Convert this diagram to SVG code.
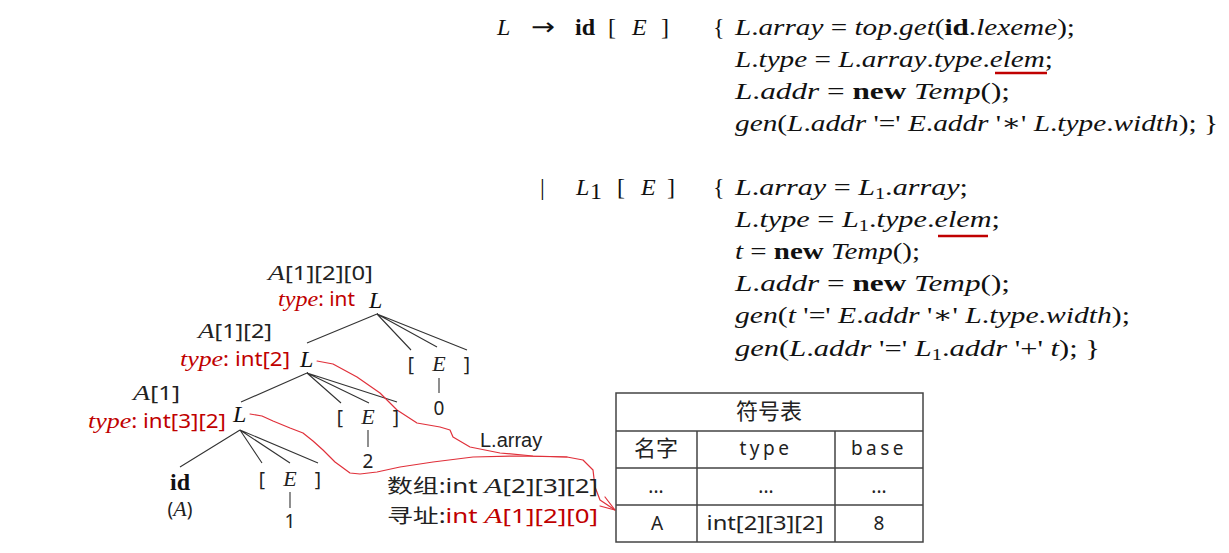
<svg xmlns="http://www.w3.org/2000/svg" width="1229" height="553" viewBox="0 0 1229 553">
<style>
.f{font-family:"Liberation Serif","DejaVu Serif",serif;font-size:24px;fill:#111}
.i{font-style:italic}
.b{font-weight:bold}
.s{font-family:"Noto Sans","Liberation Sans","Noto Sans CJK SC",sans-serif;font-size:19px;fill:#222}
.m{font-family:"Liberation Serif","DejaVu Serif",serif;font-style:italic;font-size:22px;fill:#222}
.red{fill:#c00000}
.edge{stroke:#333;stroke-width:1.1;fill:none}
.curve{stroke:#e0303a;stroke-width:1.2;fill:none;stroke-linejoin:round;stroke-linecap:round}
.ul{stroke:#c00000;stroke-width:2.5}
.tb{stroke:#444;stroke-width:1.5;fill:none}
.t{font-family:"Noto Sans","Noto Sans CJK SC",sans-serif;font-size:19px;fill:#222;text-anchor:middle}
.cn{font-family:"Noto Sans CJK SC",sans-serif;font-size:22px;fill:#222;text-anchor:middle}
</style>
<rect width="1229" height="553" fill="#fff"/>

<g id="rule1">
<text class="f i" x="497" y="35">L</text>
<text x="531" y="35" font-family="DejaVu Sans, sans-serif" font-size="24" fill="#111" textLength="24" lengthAdjust="spacingAndGlyphs">→</text>
<text class="f b" x="575" y="35">id</text>
<text class="f" x="608" y="35">[</text>
<text class="f i" x="632" y="35">E</text>
<text class="f" x="661" y="35">]</text>
<text class="f" x="713" y="35">{</text>
<text class="f" x="735" y="35" textLength="340" lengthAdjust="spacingAndGlyphs"><tspan class="i">L</tspan>.<tspan class="i">array</tspan> = <tspan class="i">top</tspan>.<tspan class="i">get</tspan>(<tspan class="b">id</tspan>.<tspan class="i">lexeme</tspan>);</text>
<text class="f" x="735" y="67" textLength="318" lengthAdjust="spacingAndGlyphs"><tspan class="i">L</tspan>.<tspan class="i">type</tspan> = <tspan class="i">L</tspan>.<tspan class="i">array</tspan>.<tspan class="i">type</tspan>.<tspan class="i">elem</tspan>;</text>
<line class="ul" x1="995" y1="73" x2="1047" y2="73"/>
<text class="f" x="735" y="99" textLength="275" lengthAdjust="spacingAndGlyphs"><tspan class="i">L</tspan>.<tspan class="i">addr</tspan> = <tspan class="b">new</tspan> <tspan class="i">Temp</tspan>();</text>
<text class="f" x="735" y="131" textLength="483" lengthAdjust="spacingAndGlyphs"><tspan class="i">gen</tspan>(<tspan class="i">L</tspan>.<tspan class="i">addr</tspan> '=' <tspan class="i">E</tspan>.<tspan class="i">addr</tspan> '∗' <tspan class="i">L</tspan>.<tspan class="i">type</tspan>.<tspan class="i">width</tspan>); }</text>
</g>

<g id="rule2">
<text class="f" x="540" y="195">|</text>
<text class="f i" x="576" y="195">L</text>
<text class="f" x="590" y="199" font-size="16">1</text>
<text class="f" x="617" y="195">[</text>
<text class="f i" x="641" y="195">E</text>
<text class="f" x="667" y="195">]</text>
<text class="f" x="713" y="195">{</text>
<text class="f" x="735" y="195" textLength="233" lengthAdjust="spacingAndGlyphs"><tspan class="i">L</tspan>.<tspan class="i">array</tspan> = <tspan class="i">L</tspan><tspan font-size="16" dy="4">1</tspan><tspan dy="-4">.</tspan><tspan class="i">array</tspan>;</text>
<text class="f" x="735" y="227" textLength="265" lengthAdjust="spacingAndGlyphs"><tspan class="i">L</tspan>.<tspan class="i">type</tspan> = <tspan class="i">L</tspan><tspan font-size="16" dy="4">1</tspan><tspan dy="-4">.</tspan><tspan class="i">type</tspan>.<tspan class="i">elem</tspan>;</text>
<line class="ul" x1="938" y1="236" x2="988" y2="236"/>
<text class="f" x="735" y="259" textLength="185" lengthAdjust="spacingAndGlyphs"><tspan class="i">t</tspan> = <tspan class="b">new</tspan> <tspan class="i">Temp</tspan>();</text>
<text class="f" x="735" y="291" textLength="275" lengthAdjust="spacingAndGlyphs"><tspan class="i">L</tspan>.<tspan class="i">addr</tspan> = <tspan class="b">new</tspan> <tspan class="i">Temp</tspan>();</text>
<text class="f" x="735" y="323" textLength="395" lengthAdjust="spacingAndGlyphs"><tspan class="i">gen</tspan>(<tspan class="i">t</tspan> '=' <tspan class="i">E</tspan>.<tspan class="i">addr</tspan> '∗' <tspan class="i">L</tspan>.<tspan class="i">type</tspan>.<tspan class="i">width</tspan>);</text>
<text class="f" x="735" y="356" textLength="365" lengthAdjust="spacingAndGlyphs"><tspan class="i">gen</tspan>(<tspan class="i">L</tspan>.<tspan class="i">addr</tspan> '=' <tspan class="i">L</tspan><tspan font-size="16" dy="4">1</tspan><tspan dy="-4">.</tspan><tspan class="i">addr</tspan> '+' <tspan class="i">t</tspan>); }</text>
</g>

<g id="connectors">
<path class="edge" d="M377,314 L307,343 M377,314 L411,350 M377,314 L437,347 M377,314 L467,350"/>
<path class="edge" d="M307,373 L241,402 M307,373 L341,403 M307,373 L369,403 M307,373 L397,402"/>
<path class="edge" d="M240,430 L180,467 M240,430 L262,463 M240,430 L290,463 M240,430 L318,463"/>
<path class="edge" d="M439,378 L439,393 M368,430 L368,447 M290,492 L290,508"/>
<path class="curve" d="M317,361 L333,364 L357,377 L380,393 L397,410 L417,423 L440,427 L450,430 L453,437 L470,447 L500,453 L533,456 L567,457 L583,460 L593,470 L595,487 L600,500 L615,510"/>
<path class="curve" d="M250,414 L262,416 L273,421 L290,428 L303,433 L313,441 L323,450 L335,462 L350,473 L360,474 L377,472 L400,467 L433,462 L473,457 L517,456 L567,457"/>
<path class="curve" d="M605,497 L615,510 L600,506"/>
</g>

<g id="nodeL0">
<text class="s" x="268" y="280" textLength="105" lengthAdjust="spacingAndGlyphs"><tspan class="m">A</tspan>[1][2][0]</text>
<text class="s red" x="278" y="306" textLength="77" lengthAdjust="spacingAndGlyphs"><tspan class="m red">type</tspan>: int</text>
<text class="f i" x="369" y="308">L</text>
</g>
<g id="nodeE0">
<text class="s" x="411" y="371" text-anchor="middle">[</text>
<text class="m" x="439" y="371" text-anchor="middle">E</text>
<text class="s" x="467" y="371" text-anchor="middle">]</text>
<text class="s" x="439" y="415" text-anchor="middle">0</text>
</g>
<g id="nodeL1">
<text class="s" x="198" y="338" textLength="74" lengthAdjust="spacingAndGlyphs"><tspan class="m">A</tspan>[1][2]</text>
<text class="s red" x="180" y="366" textLength="110" lengthAdjust="spacingAndGlyphs"><tspan class="m red">type</tspan>: int[2]</text>
<text class="f i" x="300" y="367">L</text>
</g>
<g id="nodeE1">
<text class="s" x="340" y="424" text-anchor="middle">[</text>
<text class="m" x="368" y="424" text-anchor="middle">E</text>
<text class="s" x="396" y="424" text-anchor="middle">]</text>
<text class="s" x="368" y="468" text-anchor="middle">2</text>
</g>
<g id="nodeL2">
<text class="s" x="133" y="400" textLength="47" lengthAdjust="spacingAndGlyphs"><tspan class="m">A</tspan>[1]</text>
<text class="s red" x="88" y="428" textLength="138" lengthAdjust="spacingAndGlyphs"><tspan class="m red">type</tspan>: int[3][2]</text>
<text class="f i" x="233" y="422">L</text>
</g>
<g id="nodeId">
<text class="f b" x="180" y="490" text-anchor="middle" font-size="22">id</text>
<text class="s" x="180" y="516" text-anchor="middle">(<tspan class="m">A</tspan>)</text>
</g>
<g id="nodeE2">
<text class="s" x="262" y="486" text-anchor="middle">[</text>
<text class="m" x="290" y="486" text-anchor="middle">E</text>
<text class="s" x="318" y="486" text-anchor="middle">]</text>
<text class="s" x="290" y="528" text-anchor="middle">1</text>
</g>

<g id="labels">
<text x="480" y="447" font-family="Liberation Sans, sans-serif" font-size="20" fill="#222">L.array</text>
<text class="s" x="387" y="493" font-size="21" textLength="211" lengthAdjust="spacingAndGlyphs">数组:int <tspan class="m">A</tspan>[2][3][2]</text>
<text class="s" x="387" y="523" font-size="21" textLength="211" lengthAdjust="spacingAndGlyphs">寻址:<tspan class="red">int </tspan><tspan class="m red">A</tspan><tspan class="red">[1][2][0]</tspan></text>
</g>

<g id="symtable">
<rect class="tb" x="616" y="393" width="307" height="149"/>
<path class="tb" d="M616,431 H923 M616,468 H923 M616,505 H923 M697,431 V542 M835,431 V542"/>
<text class="cn" x="769" y="419">符号表</text>
<text class="cn" x="656" y="456">名字</text>
<text class="t" x="766" y="455" letter-spacing="3.5">type</text>
<text class="t" x="879" y="455" letter-spacing="3.5">base</text>
<text class="t" x="656" y="493">...</text>
<text class="t" x="766" y="493">...</text>
<text class="t" x="879" y="493">...</text>
<text class="t" x="657" y="530">A</text>
<text class="t" x="765" y="530" textLength="117" lengthAdjust="spacingAndGlyphs">int[2][3][2]</text>
<text class="t" x="879" y="530">8</text>
</g>
</svg>
